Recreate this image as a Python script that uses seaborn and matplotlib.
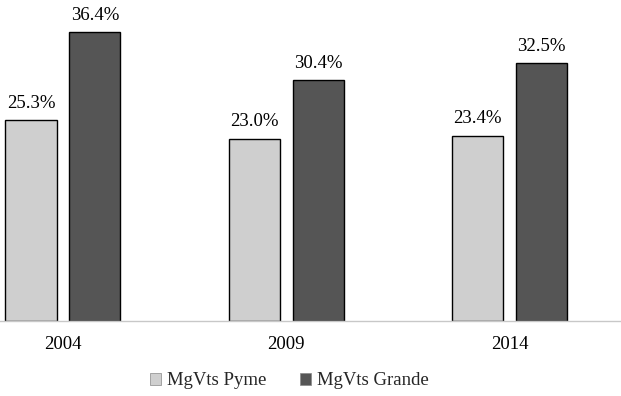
import pandas as pd
import seaborn as sns
import matplotlib.pyplot as plt

# data
years = ["2004", "2009", "2014"]
pyme = [25.3, 23.0, 23.4]
grande = [36.4, 30.4, 32.5]
series = ["MgVts Pyme", "MgVts Grande"]

df = pd.DataFrame({
    "year": years * 2,
    "serie": [series[0]] * 3 + [series[1]] * 3,
    "value": pyme + grande,
})

sns.set_theme(style="white")
plt.rcParams["font.family"] = ["Liberation Serif", "DejaVu Serif"]

fig = plt.figure(figsize=(6.21, 3.96), dpi=100)
ax = fig.add_axes([0, 75 / 396, 1, 321 / 396])

sns.barplot(data=df, x="year", y="value", hue="serie",
            palette=["#cfcfcf", "#555555"], width=0.572, gap=0.2,
            edgecolor="black", linewidth=1, saturation=1, ax=ax)

for c in ax.containers:
    ax.bar_label(c, fmt="%.1f%%", padding=6, fontsize=13.5, color="black")

ax.set_xlim(-0.282, 2.5)
ax.set_ylim(0, 40.5)
ax.set_xlabel("")
ax.set_ylabel("")
ax.set_yticks([])
for s in ["top", "left", "right"]:
    ax.spines[s].set_visible(False)
ax.spines["bottom"].set_color("#c8c8c8")
ax.spines["bottom"].set_linewidth(1)
ax.tick_params(axis="x", length=0, pad=11, labelsize=13.5, colors="black")

ax.get_legend().remove()
handles = [plt.Rectangle((0, 0), 1, 1, facecolor=col, edgecolor="#888888", linewidth=0.5)
           for col in ["#cfcfcf", "#555555"]]
fig.legend(handles, series, loc="center", bbox_to_anchor=(0.466, 0.038), ncol=2,
           frameon=False, fontsize=13.5, handlelength=0.6, handleheight=0.6,
           handletextpad=0.3, columnspacing=1.8)

plt.savefig("out.png", dpi=100)
